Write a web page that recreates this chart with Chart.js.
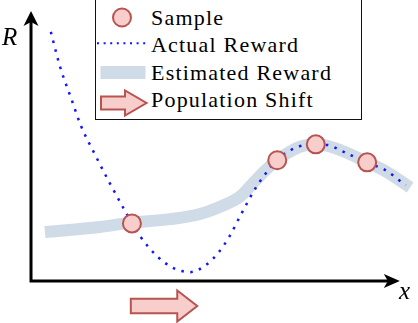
<!DOCTYPE html>
<html>
<head>
<meta charset="utf-8">
<script src="https://cdn.jsdelivr.net/npm/chart.js@4.4.1/dist/chart.umd.min.js"></script>
<style>
  html, body { margin: 0; padding: 0; background: #fff; }
  #wrap { position: relative; width: 418px; height: 323px; overflow: hidden; }
  #wrap canvas { position: absolute; left: 0; top: 0; }
  .box { position: absolute; left: 95px; top: -1px; width: 267px; height: 121px; border: 1.5px solid #111; box-sizing: border-box; background: #fff; }
  .txt { position: absolute; left: 151px; font-family: "Liberation Serif", "Times New Roman", serif; font-size: 22px; line-height: 22px; letter-spacing: 1.2px; color: #000; white-space: nowrap; }
  .ax { position: absolute; font-family: "Liberation Serif", "Times New Roman", serif; font-style: italic; font-size: 25px; line-height: 25px; color: #000; }
  svg { position: absolute; left: 0; top: 0; }
</style>
</head>
<body>
<div id="wrap">
  <canvas id="chart" width="418" height="323"></canvas>
  <div class="box"></div>
  <svg width="418" height="130">
    <circle cx="122" cy="17.5" r="9" fill="#f8cecc" stroke="#b85450" stroke-width="2"/>
    <line x1="97" y1="43.3" x2="147" y2="43.3" stroke="#1414ff" stroke-width="2" stroke-dasharray="2 4.6"/>
    <rect x="100.5" y="66" width="45" height="13" fill="#d0dbe8"/>
    <polygon points="101,96.5 125,96.5 125,90.5 146.5,103 125,115.5 125,109.5 101,109.5" fill="#f8cecc" stroke="#b85450" stroke-width="2" stroke-linejoin="miter"/>
  </svg>
  <span class="txt" style="top:7px">Sample</span>
  <span class="txt" style="top:34px">Actual Reward</span>
  <span class="txt" style="top:62px">Estimated Reward</span>
  <span class="txt" style="top:89px">Population Shift</span>
  <span class="ax" style="left:2px; top:24px">R</span>
  <span class="ax" style="left:399px; top:278px">x</span>
</div>
<script>
// values (x along the axis, y = reward)
const actualX = [0.54, 0.79, 1.11, 1.36, 1.68, 2.13, 2.61, 2.97, 3.46, 3.85, 4.11, 4.33, 4.8, 5.12, 5.4, 5.74, 6.1, 6.38, 6.7, 7.08, 7.55, 8.04, 8.49, 9.16, 9.62, 10.21];
const actualY = [9.26, 7.97, 6.73, 5.77, 4.87, 3.68, 2.49, 1.67, 0.89, 0.5, 0.37, 0.33, 0.63, 1.08, 1.64, 2.52, 3.41, 3.97, 4.5, 4.87, 5.06, 5.06, 4.82, 4.39, 4.15, 3.56];

const estX = [0.38, 1.88, 2.7, 3.79, 4.6, 5.2, 5.69, 6.05, 6.4, 6.7, 7.06, 7.33, 7.77, 8.28, 9.16, 9.65, 10.33];
const estY = [1.82, 2.01, 2.16, 2.3, 2.49, 2.79, 3.13, 3.64, 4.13, 4.5, 4.81, 4.99, 5.09, 4.94, 4.42, 4.09, 3.48];

const sampleX = [2.75, 6.71, 7.76, 9.16];
const sampleY = [2.14, 4.49, 5.08, 4.41];

// population shift arrow, from -> to, at this height
const shiftX = [2.72, 4.53];
const shiftY = -0.93;

const pairs = (xs, ys) => xs.map((v, i) => ({ x: v, y: ys[i] }));

const axesPlugin = {
  id: "axes",
  beforeDatasetsDraw(chart) {
    const { ctx } = chart;
    const sx = chart.scales.x, sy = chart.scales.y;
    const ox = sx.getPixelForValue(0), oy = sy.getPixelForValue(0);
    const xEnd = sx.getPixelForValue(10.05), yEnd = sy.getPixelForValue(10.04);
    ctx.save();
    ctx.strokeStyle = "#000";
    ctx.fillStyle = "#000";
    ctx.lineWidth = 3;
    ctx.beginPath();
    ctx.moveTo(ox - 1.5, oy);
    ctx.lineTo(xEnd - 10, oy);
    ctx.moveTo(ox, oy + 1.5);
    ctx.lineTo(ox, yEnd + 10);
    ctx.stroke();
    // arrow heads
    ctx.beginPath();
    ctx.moveTo(xEnd, oy);
    ctx.lineTo(xEnd - 16, oy - 7);
    ctx.lineTo(xEnd - 12, oy);
    ctx.lineTo(xEnd - 16, oy + 7);
    ctx.closePath();
    ctx.fill();
    ctx.beginPath();
    ctx.moveTo(ox, yEnd);
    ctx.lineTo(ox - 7.5, yEnd + 15);
    ctx.lineTo(ox, yEnd + 11);
    ctx.lineTo(ox + 7.5, yEnd + 15);
    ctx.closePath();
    ctx.fill();
    ctx.restore();
  },
  afterDatasetsDraw(chart) {
    const { ctx } = chart;
    const sx = chart.scales.x, sy = chart.scales.y;
    const a = sx.getPixelForValue(shiftX[0]), b = sx.getPixelForValue(shiftX[1]);
    const cy = sy.getPixelForValue(shiftY);
    const head = 20;
    ctx.save();
    ctx.fillStyle = "#f8cecc";
    ctx.strokeStyle = "#b85450";
    ctx.lineWidth = 2;
    ctx.beginPath();
    ctx.moveTo(a, cy - 7.3);
    ctx.lineTo(b - head, cy - 7.3);
    ctx.lineTo(b - head, cy - 15.5);
    ctx.lineTo(b, cy);
    ctx.lineTo(b - head, cy + 15.5);
    ctx.lineTo(b - head, cy + 7.3);
    ctx.lineTo(a, cy + 7.3);
    ctx.closePath();
    ctx.fill();
    ctx.stroke();
    ctx.restore();
  },
};

new Chart(document.getElementById("chart"), {
  type: "line",
  data: {
    datasets: [
      {
        label: "Sample",
        data: pairs(sampleX, sampleY),
        showLine: false,
        pointRadius: 9,
        pointBackgroundColor: "#f8cecc",
        pointBorderColor: "#b85450",
        pointBorderWidth: 2,
        order: 0,
      },
      {
        label: "Actual Reward",
        data: pairs(actualX, actualY),
        borderColor: "#1414ff",
        borderWidth: 2.5,
        borderDash: [2.5, 6.5],
        pointRadius: 0,
        cubicInterpolationMode: "monotone",
        fill: false,
        order: 1,
      },
      {
        label: "Estimated Reward",
        data: pairs(estX, estY),
        borderColor: "#d0dbe8",
        borderWidth: 12,
        borderCapStyle: "butt",
        borderJoinStyle: "round",
        pointRadius: 0,
        cubicInterpolationMode: "monotone",
        fill: false,
        order: 2,
      },
    ],
  },
  options: {
    responsive: false,
    animation: false,
    events: [],
    layout: { padding: 0, autoPadding: false },
    plugins: { legend: { display: false }, tooltip: { enabled: false } },
    scales: {
      x: { type: "linear", display: false, min: -0.845, max: 10.545 },
      y: { type: "linear", display: false, min: -1.561, max: 10.446 },
    },
  },
  plugins: [axesPlugin],
});
</script>
</body>
</html>
